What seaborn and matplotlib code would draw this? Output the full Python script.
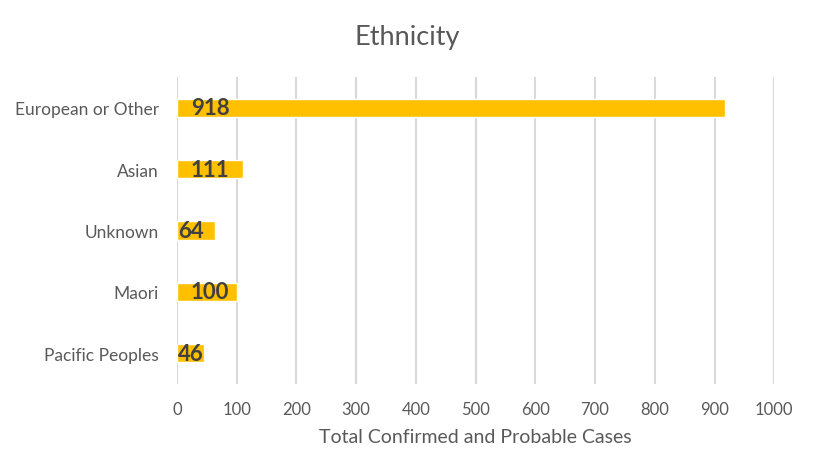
import matplotlib
matplotlib.use("Agg")
import pandas as pd
import seaborn as sns
from matplotlib import pyplot as plt

# Chart data
categories = ["European or Other", "Asian", "Unknown", "Maori", "Pacific Peoples"]
cases = [918, 111, 64, 100, 46]
x_ticks = list(range(0, 1001, 100))

TEXT_GREY = "#595959"
LABEL_DARK = "#404040"
BAR_GOLD = "#FFC000"
GRID_GREY = "#D9D9D9"

sns.set_style("white")
plt.rcParams["font.family"] = ["Lato", "DejaVu Sans"]

df = pd.DataFrame({"Ethnicity": categories, "Cases": cases})

fig = plt.figure(figsize=(8.15, 4.77), dpi=100)
ax = fig.add_axes([0.217, 0.193, 0.733, 0.643])

sns.barplot(data=df, x="Cases", y="Ethnicity", orient="h", color=BAR_GOLD,
            width=0.3, saturation=1, ax=ax, zorder=3)

# Data labels near the base of each bar (longer labels sit a bit further in)
for i, v in enumerate(cases):
    shift = 1 + 9 * (len(str(v)) - 2)
    ax.annotate(str(v), xy=(0, i), xytext=(shift, 0), textcoords="offset points",
                ha="left", va="center", fontsize=16, fontweight="bold",
                color=LABEL_DARK, zorder=5)

ax.set_xlim(0, 1000)
ax.set_ylim(len(categories) - 0.5, -0.5)
ax.set_xticks(x_ticks)
ax.xaxis.grid(True, color=GRID_GREY, lw=1.5, zorder=0)
ax.set_axisbelow(True)
for side in ax.spines.values():
    side.set_visible(False)
ax.tick_params(axis="x", length=0, pad=12, labelsize=12, labelcolor=TEXT_GREY)
ax.tick_params(axis="y", length=0, pad=13, labelsize=12.5, labelcolor=TEXT_GREY)
ax.set_ylabel("")
ax.set_xlabel("Total Confirmed and Probable Cases", fontsize=14,
              color=TEXT_GREY, labelpad=8)

fig.suptitle("Ethnicity", x=0.5, y=0.948, fontsize=19.5, color=TEXT_GREY)

fig.savefig("out.png", dpi=100)
